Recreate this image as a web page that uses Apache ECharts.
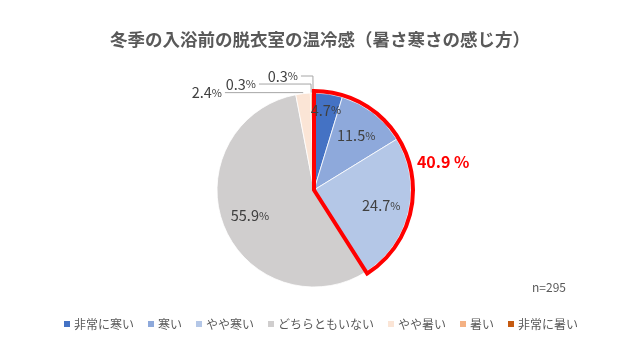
<!DOCTYPE html>
<html><head><meta charset="utf-8">
<script src="https://cdn.jsdelivr.net/npm/echarts@6/dist/echarts.min.js"></script>
<style>html,body{margin:0;padding:0;background:#fff}#c{width:640px;height:360px}</style>
</head><body><div id="c"></div>
<script>
const categories = ['非常に寒い','寒い','やや寒い','どちらともいない','やや暑い','暑い','非常に暑い'];
const values = [4.7, 11.5, 24.7, 55.9, 2.4, 0.3, 0.3];
const colors = ['#4472C4','#8EA9DB','#B4C7E7','#D0CECE','#FBE5D6','#F4B183','#C55A11'];
const titleText = '冬季の入浴前の脱衣室の温冷感（暑さ寒さの感じ方）';
const noteText = 'n=295';
const coldCount = 3;

const coldSum = Math.round(values.slice(0, coldCount).reduce((a,b)=>a+b,0)*10)/10;
const total = values.reduce((a,b)=>a+b,0);
const FONT = '"Noto Sans CJK JP", "Noto Sans", sans-serif';
const center = [314, 190];
const R = 97;

const richLbl = {
  v: {fontSize: 14.5, color: '#404040', fontFamily: FONT},
  p: {fontSize: 11, color: '#404040', fontFamily: FONT}
};
const fmt = p => '{v|' + p.value.toFixed(1) + '}{p|%}';
// label-line lengths for the three thin slices (radial, horizontal)
const smallLines = {4: [1, 78], 5: [9, 52], 6: [17, 12]};

const mainData = categories.map((n,i)=>{
  const d = {name: n, value: values[i], itemStyle: {color: colors[i]},
    label: {show: i >= 4}, labelLine: {show: i >= 4}};
  if (smallLines[i]) {
    d.labelLine.length = smallLines[i][0];
    d.labelLine.length2 = smallLines[i][1];
  }
  return d;
});
const labelData = (showFn) => categories.map((n,i)=>({
  name: n, value: values[i], label: {show: showFn(i)}
}));

function labelPie(name, radius, showFn) {
  return {
    type: 'pie', name: name, center: center, radius: [0, radius],
    startAngle: 90, clockwise: true, silent: true,
    itemStyle: {color: 'transparent', borderWidth: 0},
    label: {position: 'inside', formatter: fmt, rich: richLbl},
    labelLine: {show: false},
    emphasis: {disabled: true},
    data: labelData(showFn), z: 5
  };
}

const chart = echarts.init(document.getElementById('c'));
chart.setOption({
  animation: false,
  title: [{
    text: titleText, left: 'center', top: 26,
    textStyle: {fontSize: 17.5, fontWeight: 'bold', color: '#595959', fontFamily: FONT}
  },{
    text: noteText, left: 527, top: 276,
    textStyle: {fontSize: 12, fontWeight: 'normal', color: '#595959', fontFamily: FONT}
  }],
  legend: {
    data: categories, bottom: 25, left: 'center',
    itemWidth: 8, itemHeight: 8, itemGap: 12, icon: 'rect',
    textStyle: {fontSize: 12, color: '#595959', fontFamily: FONT, padding: [0,0,0,-2]}
  },
  series: [{
    type: 'pie', name: 'main', center: center, radius: [0, R],
    startAngle: 90, clockwise: true, silent: true,
    itemStyle: {borderColor: '#fff', borderWidth: 0.8},
    label: {position: 'outside', formatter: fmt, rich: richLbl, distanceToLabelLine: 3},
    labelLine: {lineStyle: {color: '#A6A6A6', width: 1}},
    avoidLabelOverlap: false,
    data: mainData, z: 2
  },
  labelPie('labels', R*1.36, i => i >= 1 && i < 4),
  labelPie('labels0', R*1.6, i => i === 0),
  {
    type: 'pie', name: 'outline', center: center, radius: [0, R+2],
    startAngle: 90, clockwise: true, silent: true,
    data: [
      {name: '寒い計', value: coldSum, itemStyle: {color: 'transparent', borderColor: '#FF0000', borderWidth: 4, borderJoin: 'miter'},
       label: {show: true, position: 'outside', formatter: coldSum.toFixed(1) + ' %',
         fontSize: 16, fontWeight: 'bold', color: '#FF0000', fontFamily: FONT},
       labelLine: {show: false, length: 3, length2: 0}},
      {name: 'その他', value: total - coldSum, itemStyle: {color: 'transparent', borderWidth: 0},
       label: {show: false}, labelLine: {show: false}}
    ],
    z: 3
  }]
});
</script></body></html>
